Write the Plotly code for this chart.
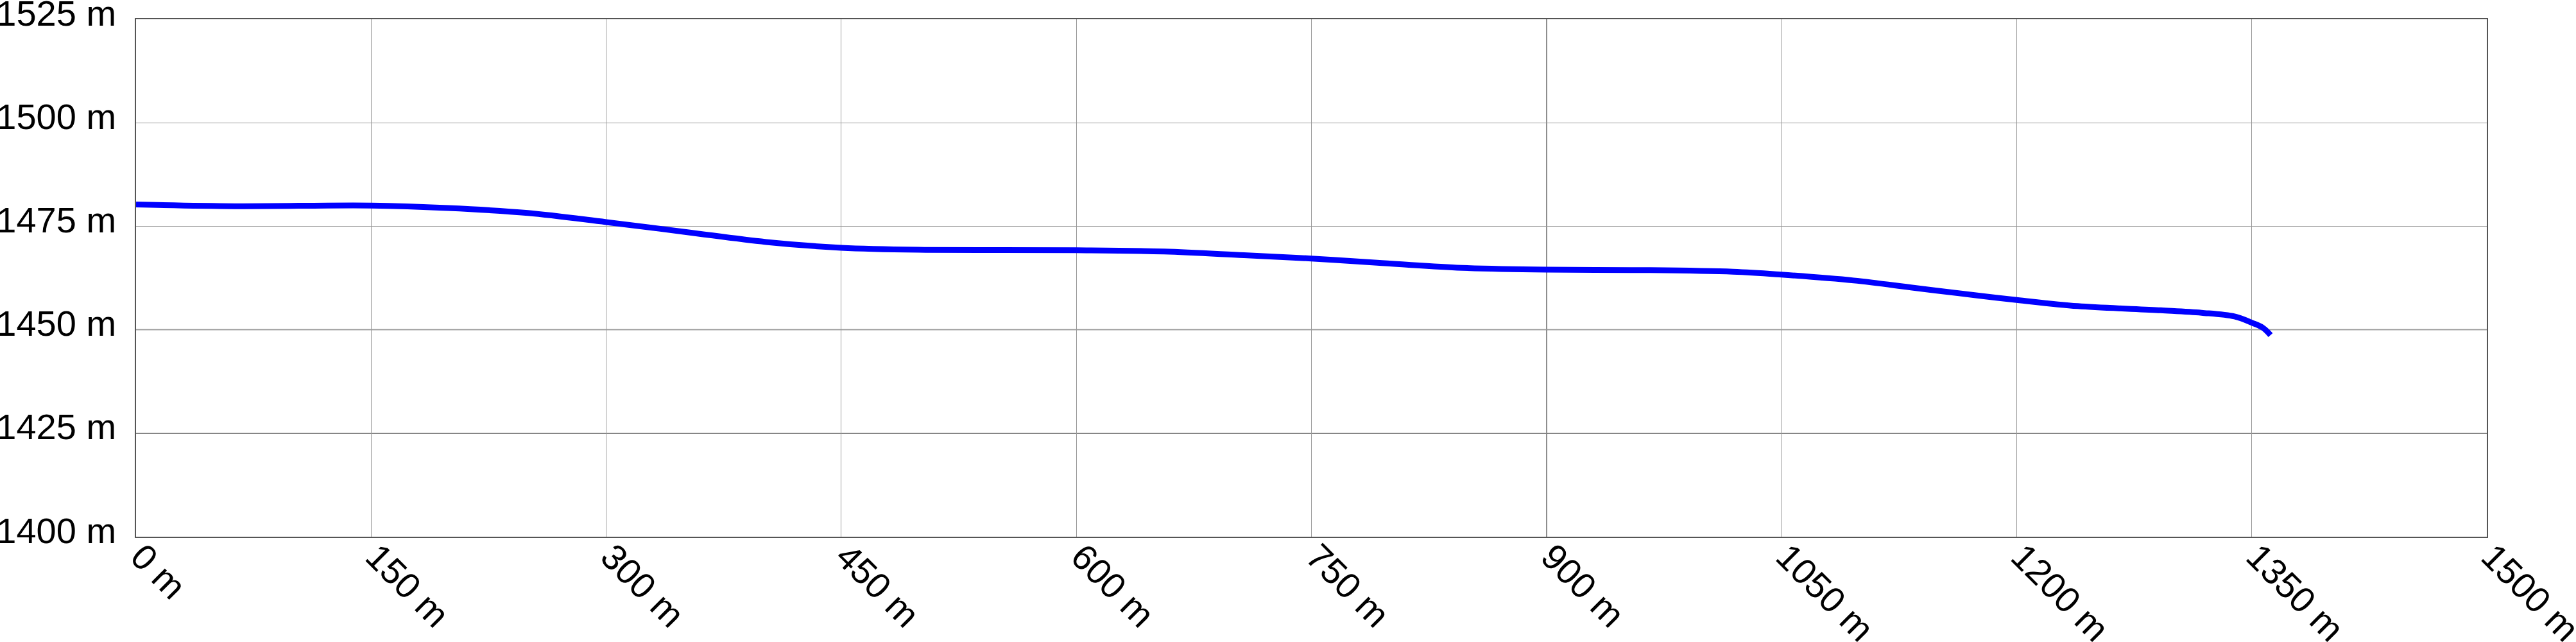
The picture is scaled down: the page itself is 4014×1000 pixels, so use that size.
import plotly.graph_objects as go

# Elevation profile (distance in m, elevation in m)
distance = [0, 63, 150, 199, 250, 300, 351, 402, 450, 504, 600, 656, 707, 750, 792,
            843, 900, 962, 1019, 1050, 1096, 1135, 1174, 1200, 1239, 1292, 1318,
            1339, 1350, 1357, 1362]
elevation = [1480.25, 1479.85, 1480.0, 1479.4, 1478.2, 1476.0, 1473.6, 1471.2, 1469.8,
             1469.3, 1469.2, 1468.9, 1468.0, 1467.2, 1466.2, 1465.0, 1464.5, 1464.4,
             1464.0, 1463.3, 1461.9, 1460.1, 1458.3, 1457.2, 1455.7, 1454.7, 1454.1,
             1453.2, 1451.7, 1450.5, 1448.7]

x_ticks = [0, 150, 300, 450, 600, 750, 900, 1050, 1200, 1350, 1500]
y_ticks = [1400, 1425, 1450, 1475, 1500, 1525]
x_range = [0, 1500]
y_range = [1400, 1525]

font_family = "Liberation Sans, Arial, sans-serif"

fig = go.Figure()
fig.add_trace(go.Scatter(
    x=distance, y=elevation, mode="lines",
    line=dict(color="#0000ff", width=9, shape="spline", smoothing=1.0),
    hoverinfo="skip", showlegend=False,
))

# darker grid lines as seen in the reference
fig.add_shape(type="line", xref="x", yref="paper", x0=900, x1=900, y0=0, y1=1,
              line=dict(color="#000000", width=1.5), layer="between")
fig.add_shape(type="line", xref="paper", yref="y", x0=0, x1=1, y0=1425, y1=1425,
              line=dict(color="#000000", width=1.5), layer="between")
fig.add_shape(type="line", xref="paper", yref="y", x0=0, x1=1, y0=1450, y1=1450,
              line=dict(color="#555555", width=1.5), layer="between")

fig.update_layout(
    width=4014, height=1000,
    margin=dict(l=212, r=139, t=30, b=164, autoexpand=False),
    paper_bgcolor="white", plot_bgcolor="white",
    font=dict(family=font_family, size=56, color="black"),
)
fig.update_xaxes(
    range=x_range, tickmode="array", tickvals=x_ticks,
    ticktext=[f"{v} m" for v in x_ticks], tickangle=45,
    showgrid=True, gridcolor="#999999", gridwidth=1,
    showline=True, linecolor="#555555", linewidth=1.5, mirror=True,
    ticks="", zeroline=False, ticklabelstandoff=-26, ticklabelshift=8,
    automargin=False, ticklabeloverflow="allow",
)
fig.update_yaxes(
    range=y_range, tickmode="array", tickvals=y_ticks,
    ticktext=[f"{v} m" for v in y_ticks],
    showgrid=True, gridcolor="#999999", gridwidth=1,
    showline=True, linecolor="#555555", linewidth=1.5, mirror=True,
    ticks="", zeroline=False, ticklabelstandoff=18, ticklabelshift=-10,
    automargin=False, ticklabeloverflow="allow",
)

fig.write_html(
    "out.html",
    config={"displayModeBar": False},
    post_script="document.body.style.margin='0';document.body.style.overflow='hidden';",
)
